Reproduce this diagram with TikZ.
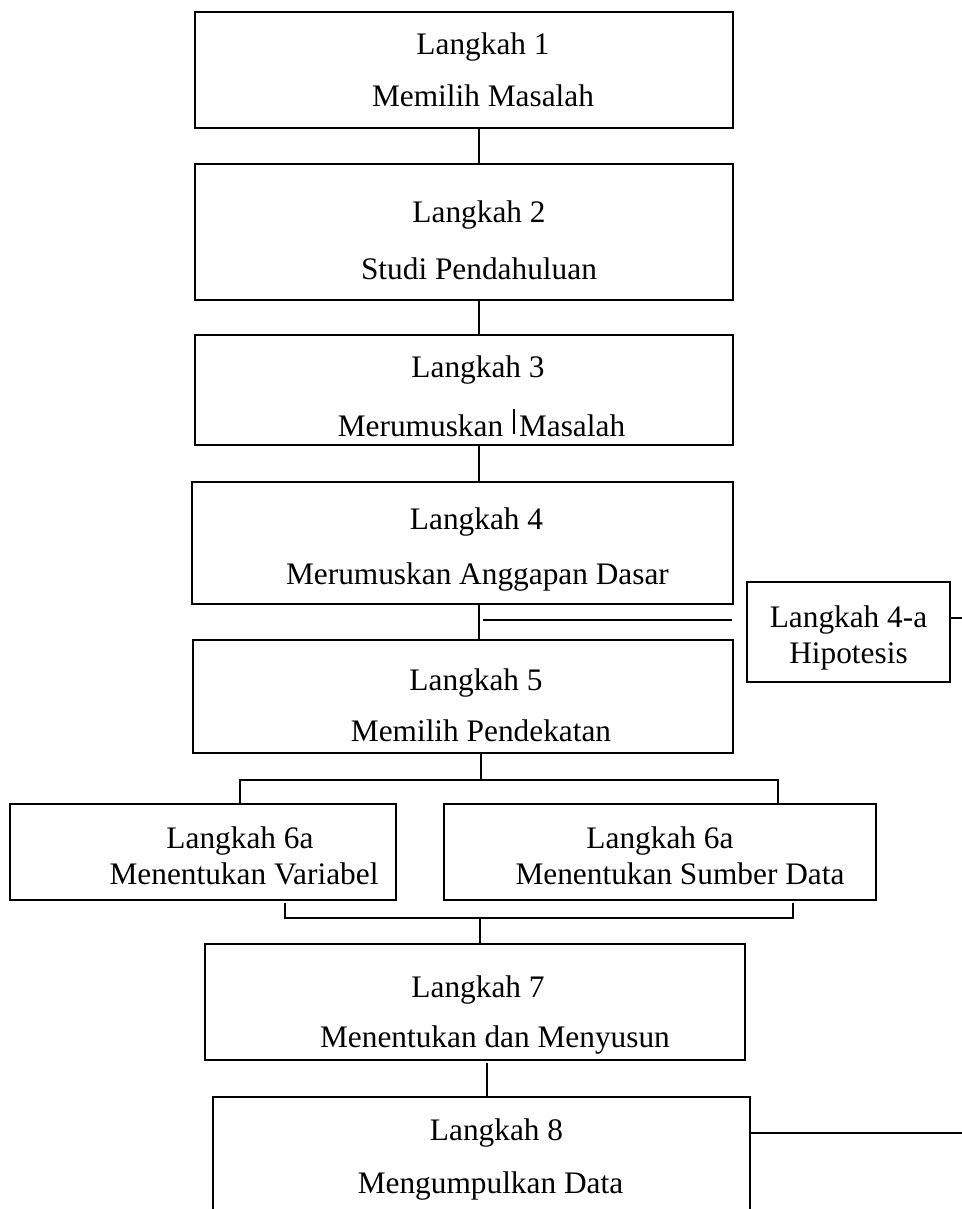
\documentclass[tikz,border=0pt]{standalone}
\usepackage{fontspec}
\setmainfont{Liberation Serif}
\usetikzlibrary{positioning}

% struts: push a line down (lift) or to the right (pad)
\newcommand\lift[1]{\rule{0pt}{#1pt}}
\newcommand\pad[1]{\hspace*{#1pt}}

\begin{document}
\begin{tikzpicture}[
  x=0.75pt, y=-0.75pt,
  box/.style={draw, line width=1.1pt, align=center, inner sep=0pt, font=\fontsize{23.5}{39}\selectfont},
  smallbox/.style={box, font=\fontsize{23.5}{26.5}\selectfont},
  gap/.style={font=\fontsize{23.5}{#1}\selectfont},
  ln/.style={line width=1.1pt}
]
\useasboundingbox (0,0) rectangle (962,1209);
\clip (0,0) rectangle (962,1209);

\node[box, minimum width=403.5pt, minimum height=87pt] (s1) at (464,70)
  {\pad{28.5}Langkah 1\\\pad{28.5}Memilih Masalah};
\node[box, gap=42.75, minimum width=403.5pt, minimum height=102pt] (s2) at (464,232)
  {\lift{28.75}\pad{22.5}Langkah 2\\\pad{22.5}Studi Pendahuluan};
\node[box, gap=44.25, minimum width=403.5pt, minimum height=82.5pt] (s3) at (464,390)
  {\lift{25.75}\pad{21}Langkah 3\\\pad{26.25}Merumuskan\hspace{6pt} Masalah};
\node[box, gap=41.25, minimum width=405.75pt, minimum height=91.5pt] (s4) at (462.5,543)
  {\lift{25.75}\pad{21}Langkah 4\\\pad{22.5}Merumuskan Anggapan Dasar};
\node[smallbox, minimum width=152.25pt, minimum height=75pt] (s4a) at (848.5,632)
  {\lift{25}Langkah 4-a\\Hipotesis};
\node[box, gap=38.25, minimum width=405pt, minimum height=84.75pt] (s5) at (463,696.5)
  {\lift{29.5}\pad{19.5}Langkah 5\\\pad{27}Memilih Pendekatan};
\node[smallbox, minimum width=289.5pt, minimum height=72pt] (s6a) at (203,852)
  {\lift{22}\pad{55.5}Langkah 6a\\\pad{61.5}Menentukan Variabel};
\node[smallbox, minimum width=324pt, minimum height=72pt] (s6b) at (660,852)
  {\lift{22}Langkah 6a\\\pad{30}Menentukan Sumber Data};
\node[box, gap=37.5, minimum width=405pt, minimum height=87pt] (s7) at (475,1002)
  {\lift{35.5}\pad{4.5}Langkah 7\\\pad{30}Menentukan dan Menyusun};
\node[box, gap=39.75, minimum width=402.75pt, minimum height=93.75pt] (s8) at (481.5,1159.5)
  {\pad{22.5}Langkah 8\\\pad{13.5}Mengumpulkan Data};

% stray mark in langkah 3
\draw[ln] (514,409) -- (514,434);

% spine
\coordinate (spine) at (479,0);
\draw[ln] (spine |- s1.south) -- (spine |- s2.north);
\draw[ln] (spine |- s2.south) -- (spine |- s3.north);
\draw[ln] (spine |- s3.south) -- (spine |- s4.north);
\draw[ln] (spine |- s4.south) -- (spine |- s5.north);

% hipotesis
\coordinate (j4) at (483,620);
\draw[ln, shorten >=10.5pt] (j4) -- (j4 -| s4a.west);
\coordinate (e4) at (962,618);
\draw[ln] (e4 -| s4a.east) -- (e4);

% fork to 6a
\coordinate (fork) at (481,780);
\coordinate (fl) at (240,780);
\coordinate (fr) at (778,780);
\draw[ln] (fork |- s5.south) -- (fork);
\draw[ln] (fl |- s6a.north) -- (fl) -- (fr) -- (fr |- s6b.north);

% merge to 7
\coordinate (ml) at (285,918);
\coordinate (mr) at (793,918);
\coordinate (merge) at (480,918);
\draw[ln] ([yshift=-2pt]ml |- s6a.south) -- (ml) -- (mr) -- ([yshift=-2pt]mr |- s6b.south);
\draw[ln] (merge) -- (merge |- s7.north);

% 7 to 8
\coordinate (c78) at (487,0);
\draw[ln] ([yshift=-2pt]c78 |- s7.south) -- (c78 |- s8.north);
\coordinate (e8) at (962,1133);
\draw[ln] (e8 -| s8.east) -- (e8);
\end{tikzpicture}
\end{document}
